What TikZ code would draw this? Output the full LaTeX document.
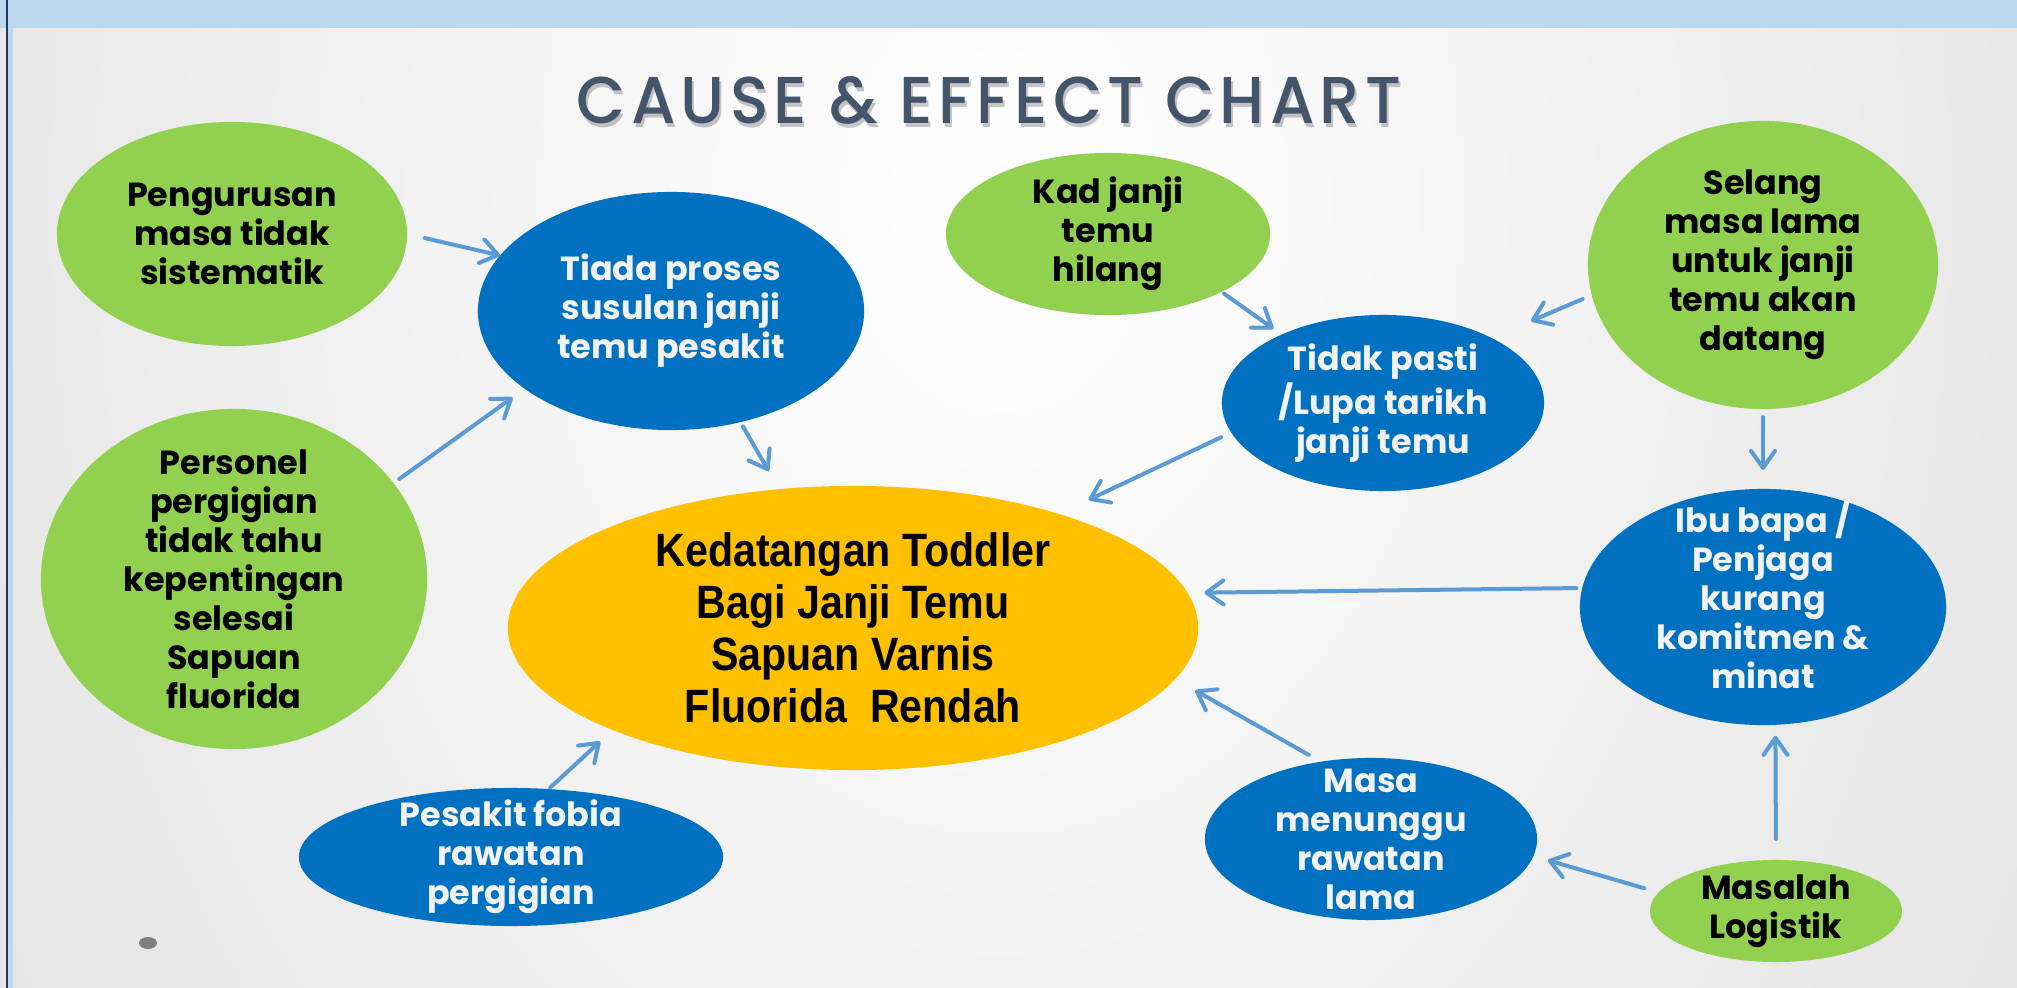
\documentclass[tikz,border=0pt]{standalone}
\usepackage{fontspec}
\usepackage{graphicx}
\setmainfont{Poppins}
\newfontfamily\centralfont[FakeStretch=0.88]{Liberation Sans}
\newfontfamily\titlefont[FakeStretch=0.84,LetterSpace=7]{Poppins Medium}
\usetikzlibrary{arrows.meta,shapes.geometric}
\definecolor{ngreen}{HTML}{92D050}
\definecolor{nblue}{HTML}{0070C0}
\definecolor{norange}{HTML}{FFC000}
\definecolor{arrowblue}{HTML}{5B9BD5}
\definecolor{bandblue}{HTML}{BDD7EE}
\definecolor{navy}{HTML}{1F3864}
\definecolor{bggrey}{HTML}{D4D4D4}
\definecolor{titlecol}{HTML}{44546A}
\definecolor{dotgrey}{HTML}{808080}
\definecolor{lighttext}{HTML}{F2F2F2}
\tikzset{
  ell/.style={ellipse, inner sep=0pt, outer sep=0pt, draw=none},
  gnode/.style={ell, fill=ngreen},
  bnode/.style={ell, fill=nblue},
  gtext/.style={align=center, inner sep=0pt, font=\bfseries\fontsize{9.5}{11.1}\selectfont, text=black},
  btext/.style={align=center, inner sep=0pt, font=\bfseries\fontsize{9.5}{11.1}\selectfont, text=lighttext},
  ctext/.style={align=center, inner sep=0pt, font=\centralfont\bfseries\fontsize{13.3}{14.8}\selectfont, text=black},
  arr/.style={draw=arrowblue, line width=0.04cm, line cap=round,
    -{Straight Barb[length=0.17cm,width=0.24cm,round]}}
}
\begin{document}
\begin{tikzpicture}[x=0.01cm,y=-0.01cm]
\useasboundingbox (0,0) rectangle (2017,988);
% background
\begin{scope}
\clip (0,0) rectangle (2017,988);
\shade[inner color=white, outer color=bggrey] (-900,-2400) rectangle (2900,2800);
\end{scope}
\fill[bandblue] (0,0) rectangle (2017,28);
\fill[bandblue] (8,28) rectangle (13,988);
\draw[navy, line width=0.02cm] (7,0) -- (7,988);
% title
\node[text=black, opacity=0.22] (titleshadow) at (991,104) {\resizebox{8.24cm}{0.47cm}{\titlefont CAUSE \& EFFECT CHART}};
\node[text=titlecol] (title) at (989,100) {\resizebox{8.24cm}{0.47cm}{\titlefont CAUSE \& EFFECT CHART}};
% nodes
\node[gnode, minimum width=3.50cm, minimum height=2.24cm,
  label={[gtext]center:Pengurusan\\masa tidak\\sistematik}] (g1) at (232,234) {};
\node[gnode, minimum width=3.86cm, minimum height=3.40cm,
  label={[gtext]center:Personel\\pergigian\\tidak tahu\\kepentingan\\selesai\\Sapuan\\fluorida}] (g2) at (234,579) {};
\node[bnode, minimum width=3.86cm, minimum height=2.38cm,
  label={[btext]center:Tiada proses\\susulan janji\\temu pesakit}] (b1) at (671,311) {};
\node[gnode, minimum width=3.24cm, minimum height=1.62cm,
  label={[gtext]center:Kad janji\\temu\\hilang}] (g3) at (1108,234) {};
\node[bnode, minimum width=3.22cm, minimum height=1.76cm,
  label={[btext]center:Tidak pasti\\/Lupa tarikh\\janji temu}] (b2) at (1383,403) {};
\node[gnode, minimum width=3.50cm, minimum height=2.88cm,
  label={[gtext]center:Selang\\masa lama\\untuk janji\\temu akan\\datang}] (g4) at (1763,265) {};
\node[bnode, minimum width=3.66cm, minimum height=2.36cm,
  label={[btext, yshift=0.12cm]center:Ibu bapa /\\Penjaga\\kurang\\komitmen \&\\minat}] (b3) at (1763,607) {};
\node[ell, fill=norange, minimum width=6.90cm, minimum height=2.84cm,
  label={[ctext]center:Kedatangan Toddler\\Bagi Janji Temu\\Sapuan Varnis\\Fluorida\ \ Rendah}] (c) at (853,628) {};
\node[bnode, minimum width=4.24cm, minimum height=1.38cm,
  label={[btext]center:Pesakit fobia\\rawatan\\pergigian}] (b4) at (511,857) {};
\node[bnode, minimum width=3.32cm, minimum height=1.62cm,
  label={[btext]center:Masa\\menunggu\\rawatan\\lama}] (b5) at (1371,839) {};
\node[gnode, minimum width=2.52cm, minimum height=1.02cm,
  label={[gtext]center:Masalah\\Logistik}] (g5) at (1776,911) {};
% small dot
\fill[dotgrey] (148,943) ellipse [x radius=9, y radius=6];
% arrows
\draw[arr, shorten <=0.18cm] (g1.0) -- (b1.162);
\draw[arr, shorten <=0.07cm, shorten >=0.15cm] (g2.31) -- (b1.208);
\draw[arr, shorten <=0.05cm, shorten >=0.21cm] (b1.-58) -- (c.118);
\draw[arr, shorten <=0.03cm, shorten >=0.10cm] (g3.-27) -- (b2.146);
\draw[arr, shorten <=0.10cm, shorten >=0.43cm] (g4.190) -- (b2.31);
\draw[arr, shorten <=0.11cm, shorten >=0.33cm] (b2.191) -- (c.29);
\draw[arr, shorten <=0.08cm, shorten >=0.19cm] (g4.south) -- (b3.north);
\draw[arr, shorten <=0.06cm, shorten >=0.17cm] (b3.174) -- (c.6);
\draw[arr, shorten <=0.14cm, shorten >=0.23cm] (b5.123) -- (c.-9);
\draw[arr, shorten <=0.21cm, shorten >=0.11cm] (g5.north) -- (b3.-84);
\draw[arr, shorten <=0.15cm, shorten >=0.15cm] (g5.171) -- (b5.-6);
\draw[arr, shorten <=0.02cm, shorten >=0.17cm] (b4.61) -- (c.203);
\end{tikzpicture}
\end{document}
